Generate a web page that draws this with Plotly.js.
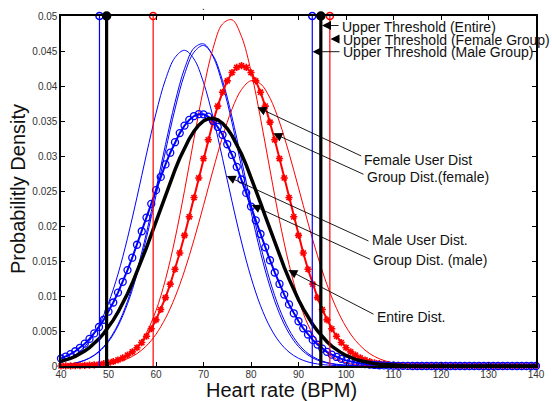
<!DOCTYPE html>
<html>
<head>
<meta charset="utf-8">
<script src="https://cdn.plot.ly/plotly-3.0.1.min.js"></script>
<style>html,body{margin:0;padding:0;background:#fff;}#chart{width:552px;height:401px;}</style>
</head>
<body>
<div id="chart"></div>
<script>
// Heart rate grid (BPM) for curves drawn with markers at every 1 BPM
var hr = [40,41,42,43,44,45,46,47,48,49,50,51,52,53,54,55,56,57,58,59,60,61,62,63,64,65,66,67,68,69,70,71,72,73,74,75,76,77,78,79,80,81,82,83,84,85,86,87,88,89,90,91,92,93,94,95,96,97,98,99,100,101,102,103,104,105,106,107,108,109,110,111,112,113,114,115,116,117,118,119,120,121,122,123,124,125,126,127,128,129,130,131,132,133,134,135,136,137,138,139,140];
// Heart rate grid for user curves
var hrUser = [40,42,44,46,48,50,52,54,56,58,60,62,64,66,68,70,72,74,76,78,80,82,84,86,88,90,92,94,96,98,100,102,104,106,108,110,112,114,116,118,120,122,124,126,128,130,132,134,136,138,140];

// Entire distribution (black thick)
var entireDist = [0.00068,0.00087,0.00110,0.00138,0.00173,0.00214,0.00263,0.00321,0.00388,0.00466,0.00554,0.00655,0.00768,0.00894,0.01031,0.01181,0.01341,0.01512,0.01691,0.01876,0.02065,0.02255,0.02444,0.02628,0.02803,0.02967,0.03115,0.03245,0.03354,0.03440,0.03500,0.03533,0.03539,0.03517,0.03467,0.03391,0.03291,0.03169,0.03028,0.02870,0.02699,0.02518,0.02331,0.02141,0.01951,0.01764,0.01583,0.01409,0.01244,0.01090,0.00947,0.00817,0.00699,0.00593,0.00500,0.00418,0.00346,0.00285,0.00233,0.00188,0.00151,0.00120,0.00095,0.00075,0.00058,0.00045,0.00034,0.00026,0.00020,0.00015,0.00011,0.00008,0.00006,0.00004,0.00003,0.00002,0.00001,0,0,0,0,0,0,0,0,0,0,0,0,0,0,0,0,0,0,0,0,0,0,0,0];
// Group distribution (male), blue circles
var maleGroupDist = [0.00107,0.00135,0.00169,0.00211,0.00260,0.00319,0.00387,0.00466,0.00557,0.00661,0.00777,0.00907,0.01049,0.01203,0.01370,0.01547,0.01732,0.01925,0.02120,0.02317,0.02512,0.02701,0.02880,0.03047,0.03197,0.03327,0.03434,0.03516,0.03571,0.03598,0.03595,0.03563,0.03502,0.03415,0.03303,0.03168,0.03015,0.02845,0.02664,0.02473,0.02278,0.02081,0.01886,0.01695,0.01511,0.01336,0.01172,0.01020,0.00880,0.00753,0.00639,0.00538,0.00450,0.00373,0.00306,0.00249,0.00202,0.00162,0.00129,0.00101,0.00080,0.00062,0.00047,0.00036,0.00027,0.00021,0.00015,0.00011,0.00008,0.00006,0.00004,0.00003,0.00002,0.00001,0,0,0,0,0,0,0,0,0,0,0,0,0,0,0,0,0,0,0,0,0,0,0,0,0,0,0];
// Group distribution (female), red stars
var femaleGroupDist = [0.00001,0.00002,0.00002,0.00004,0.00005,0.00008,0.00012,0.00017,0.00024,0.00033,0.00046,0.00064,0.00086,0.00116,0.00154,0.00202,0.00261,0.00335,0.00425,0.00532,0.00659,0.00807,0.00977,0.01169,0.01382,0.01615,0.01866,0.02132,0.02407,0.02686,0.02964,0.03232,0.03484,0.03713,0.03911,0.04073,0.04192,0.04265,0.04290,0.04265,0.04192,0.04073,0.03911,0.03713,0.03484,0.03232,0.02964,0.02686,0.02407,0.02132,0.01866,0.01615,0.01382,0.01169,0.00977,0.00807,0.00659,0.00532,0.00425,0.00335,0.00261,0.00202,0.00154,0.00116,0.00086,0.00064,0.00046,0.00033,0.00024,0.00017,0.00012,0.00008,0.00005,0.00004,0.00002,0.00002,0.00001,0,0,0,0,0,0,0,0,0,0,0,0,0,0,0,0,0,0,0,0,0,0,0,0];

// Male user distributions (thin blue)
var maleUserA = [0.00062,0.00117,0.00211,0.00360,0.00583,0.00898,0.01313,0.01826,0.02412,0.03028,0.03611,0.04093,0.04407,0.04510,0.04385,0.04051,0.03556,0.02966,0.02351,0.01771,0.01267,0.00862,0.00557,0.00342,0.00199,0.00110,0.00058,0.00029,0.00014,0.00006,0.00003,0.00001,0,0,0,0,0,0,0,0,0,0,0,0,0,0,0,0,0,0,0];
var maleUserB = [0.00014,0.00029,0.00060,0.00115,0.00210,0.00363,0.00595,0.00925,0.01364,0.01904,0.02522,0.03165,0.03766,0.04248,0.04541,0.04602,0.04421,0.04026,0.03476,0.02844,0.02206,0.01622,0.01131,0.00747,0.00468,0.00278,0.00156,0.00083,0.00042,0.00020,0.00009,0.00004,0.00002,0.00001,0,0,0,0,0,0,0,0,0,0,0,0,0,0,0,0,0];
var maleUserC = [0.00013,0.00028,0.00058,0.00111,0.00201,0.00348,0.00571,0.00888,0.01310,0.01834,0.02436,0.03070,0.03671,0.04166,0.04483,0.04579,0.04437,0.04078,0.03557,0.02944,0.02311,0.01722,0.01217,0.00816,0.00519,0.00313,0.00179,0.00098,0.00050,0.00025,0.00011,0.00005,0.00002,0.00001,0,0,0,0,0,0,0,0,0,0,0,0,0,0,0,0,0];
// Female user distributions (thin red)
var femaleUserA = [0,0.00001,0.00002,0.00006,0.00015,0.00034,0.00072,0.00144,0.00270,0.00477,0.00792,0.01237,0.01815,0.02504,0.03248,0.03959,0.04536,0.04886,0.04946,0.04707,0.04211,0.03541,0.02800,0.02080,0.01453,0.00954,0.00589,0.00341,0.00186,0.00096,0.00046,0.00021,0.00009,0.00004,0.00001,0,0,0,0,0,0,0,0,0,0,0,0,0,0,0,0];
var femaleUserB = [0.00001,0.00002,0.00004,0.00008,0.00016,0.00032,0.00058,0.00104,0.00177,0.00289,0.00454,0.00682,0.00983,0.01359,0.01803,0.02293,0.02797,0.03271,0.03670,0.03949,0.04075,0.04032,0.03827,0.03484,0.03041,0.02546,0.02044,0.01574,0.01162,0.00823,0.00559,0.00364,0.00227,0.00136,0.00078,0.00043,0.00023,0.00012,0.00006,0.00003,0.00001,0,0,0,0,0,0,0,0,0,0];

// Thresholds [lower, upper] (BPM)
var thrMale = [48.1, 92.9];
var thrEntire = [49.6, 94.7];
var thrFemale = [59.4, 96.6];
var thrTop = 0.05;

// Axis ticks
var xTicks = [40,50,60,70,80,90,100,110,120,130,140];
var yTicks = [0,0.005,0.01,0.015,0.02,0.025,0.03,0.035,0.04,0.045,0.05];
var yTickText = ["0","0.005","0.01","0.015","0.02","0.025","0.03","0.035","0.04","0.045","0.05"];

// Annotation labels
var labels = ["Upper Threshold (Entire)","Upper Threshold (Female Group)","Upper Threshold (Male Group)","Female User Dist","Group Dist.(female)","Male User Dist.","Group Dist. (male)","Entire Dist."];

var BLUE = '#0000ff', RED = '#ff0000', BLACK = '#000000';

function thinLine(y, color) {
  return {x: hrUser, y: y, type: 'scatter', mode: 'lines', line: {color: color, width: 1, shape: 'spline', smoothing: 1}, hoverinfo: 'skip', showlegend: false};
}
function vLines(xs, color, w) {
  var x = [], y = [];
  xs.forEach(function (t) { x.push(t, t, null); y.push(0, thrTop, null); });
  return {x: x, y: y, type: 'scatter', mode: 'lines', line: {color: color, width: w}, showlegend: false, hoverinfo: 'skip'};
}
function vTops(xs, color, symbol, size) {
  return {x: xs, y: xs.map(function () { return thrTop; }), type: 'scatter', mode: 'markers', cliponaxis: false,
    marker: {symbol: symbol, size: size, color: color, line: {color: color, width: 1.5}}, showlegend: false, hoverinfo: 'skip'};
}

var traces = [
  thinLine(maleUserA, BLUE),
  thinLine(maleUserB, BLUE),
  thinLine(maleUserC, BLUE),
  thinLine(femaleUserA, RED),
  thinLine(femaleUserB, RED),
  {x: hr, y: femaleGroupDist, type: 'scatter', mode: 'lines+markers', cliponaxis: false,
   line: {color: RED, width: 2}, marker: {symbol: 'asterisk-open', size: 6, color: RED, line: {color: RED, width: 1.6}}, showlegend: false},
  {x: hr, y: maleGroupDist, type: 'scatter', mode: 'lines+markers', cliponaxis: false,
   line: {color: BLUE, width: 2}, marker: {symbol: 'circle-open', size: 7, color: BLUE, line: {color: BLUE, width: 1.3}}, showlegend: false},
  {x: hr, y: entireDist, type: 'scatter', mode: 'lines', line: {color: BLACK, width: 3.5}, showlegend: false},
  vLines(thrMale, BLUE, 1.2),
  vLines(thrFemale, RED, 1.2),
  vLines(thrEntire, BLACK, 3.2),
  vTops(thrMale, BLUE, 'circle-open', 7),
  vTops(thrFemale, RED, 'circle-open', 7),
  vTops(thrEntire, BLACK, 'circle', 8)
];

// Annotation geometry: [textX, textY, tailX, tailY, headX, headY]
var annGeom = [
  [98.95, 0.04840, 98.74, 0.04864, 94.95, 0.04864],
  [99.09, 0.04660, 98.95, 0.04671, 96.74, 0.04671],
  [99.09, 0.04485, 98.95, 0.04490, 92.95, 0.04490],
  [103.64, 0.02943, 103.52, 0.02990, 81.33, 0.03696],
  [104.21, 0.02707, 104.00, 0.02729, 84.69, 0.03324],
  [105.20, 0.01800, 105.05, 0.01776, 74.88, 0.02714],
  [105.47, 0.01514, 105.41, 0.01514, 80.15, 0.02300],
  [106.25, 0.00700, 106.11, 0.00729, 87.85, 0.01371]
];

var FONT = 'Liberation Sans, Arial, Helvetica, sans-serif';
var annotations = [];
labels.forEach(function (txt, i) {
  var g = annGeom[i];
  annotations.push({x: g[4], y: g[5], ax: g[2], ay: g[3], xref: 'x', yref: 'y', axref: 'x', ayref: 'y',
    text: '', showarrow: true, arrowhead: 2, arrowsize: 2, arrowwidth: 0.9, arrowcolor: BLACK, standoff: 0, startstandoff: 0});
  annotations.push({x: g[0], y: g[1], xref: 'x', yref: 'y', text: txt, showarrow: false, xanchor: 'left', yanchor: 'middle',
    borderpad: 0, font: {family: FONT, size: 14, color: '#111'}});
});
annotations.push({x: 0.4646, y: -0.068, xref: 'paper', yref: 'paper', text: 'Heart rate (BPM)', showarrow: false,
  xanchor: 'center', yanchor: 'middle', borderpad: 0, font: {family: FONT, size: 20, color: '#111'}});
annotations.push({x: -0.0905, y: 0.5057, xref: 'paper', yref: 'paper', text: 'Probabilitly Density', showarrow: false, textangle: -90,
  xanchor: 'center', yanchor: 'middle', borderpad: 0, font: {family: FONT, size: 20, color: '#111'}});
annotations.push({x: 0.301, y: 1.0443, xref: 'paper', yref: 'paper', text: '.', showarrow: false,
  xanchor: 'center', yanchor: 'top', borderpad: 0, font: {family: FONT, size: 10, color: '#111'}});

var axisCommon = {showline: true, mirror: 'ticks', linecolor: BLACK, linewidth: 1.6, ticks: 'inside', ticklen: 4,
  tickcolor: BLACK, tickwidth: 1, showgrid: false, zeroline: false, tickfont: {family: FONT, size: 10, color: '#333'}};

var layout = {
  width: 552, height: 401,
  margin: {l: 61, r: 16, t: 16, b: 35},
  paper_bgcolor: '#ffffff', plot_bgcolor: '#ffffff',
  showlegend: false,
  xaxis: Object.assign({}, axisCommon, {range: [40, 140], tickmode: 'array', tickvals: xTicks, ticktext: xTicks.map(String), ticklabelstandoff: -2}),
  yaxis: Object.assign({}, axisCommon, {range: [0, 0.05], tickmode: 'array', tickvals: yTicks, ticktext: yTickText}),
  annotations: annotations
};

Plotly.newPlot('chart', traces, layout, {displayModeBar: false, staticPlot: true});
</script>
</body>
</html>
